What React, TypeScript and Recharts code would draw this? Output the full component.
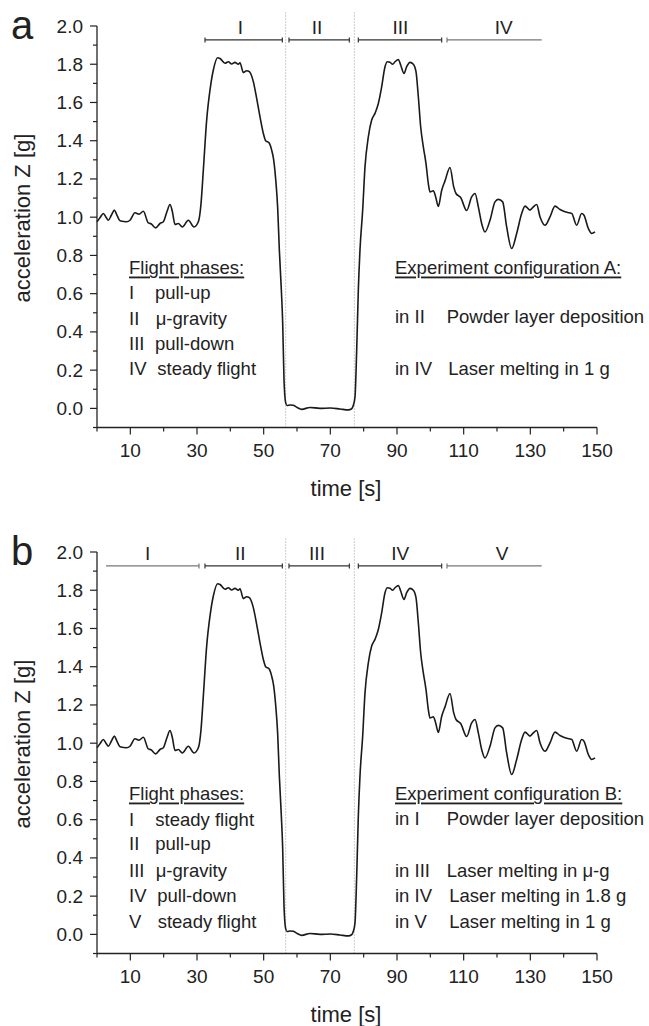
import React from "react";
import {
  LineChart,
  Line,
  XAxis,
  YAxis,
  ReferenceLine,
  ReferenceDot,
} from "recharts";

// acceleration trace (same trace in both panels)
const TIME = [
  0, 1.0, 1.9, 2.7, 3.4, 4.3, 5.2, 6.0, 6.9, 8.9, 9.9, 11.4, 12.6, 13.9, 15.4,
  16.2, 17.6, 18.9, 19.9, 21.0, 21.9, 22.6, 23.4, 24.4, 25.6, 27.4, 29.1, 30.4,
  31.2, 31.9, 32.9, 33.9, 34.9, 36.2, 36.9, 38.4, 39.4, 40.4, 41.4, 42.4, 42.9,
  43.9, 44.9, 45.7, 46.9, 47.9, 48.9, 49.9, 50.6, 51.6, 52.4, 53.0, 53.6, 54.2,
  54.7, 55.3, 55.7, 56.1, 56.6, 57.0, 58.0, 58.9, 60.2, 61.4, 63.9, 66.9, 70.0,
  72.9, 75.4, 76.4, 76.9, 77.4, 77.9, 78.4, 78.9, 79.7, 80.4, 81.4, 82.4, 83.4,
  84.4, 85.4, 86.4, 87.1, 87.9, 88.7, 89.4, 90.4, 91.1, 92.1, 92.9, 93.9, 94.9,
  95.7, 96.4, 97.1, 97.9, 98.7, 99.4, 99.9, 100.9, 101.6, 102.4, 103.4, 104.4,
  105.9, 107.0, 107.7, 109.1, 110.9, 112.4, 113.4, 114.4, 115.4, 116.4, 117.9,
  119.4, 120.4, 121.7, 122.9, 124.4, 125.9, 127.4, 128.4, 129.9, 130.9, 131.9,
  132.9, 134.4, 135.9, 137.4, 138.9, 140.4, 141.7, 142.4, 143.9, 145.4, 146.1,
  147.4, 148.4, 149.4,
];
const ACCEL = [
  0.976, 1.0, 1.019, 1.0, 0.984, 1.01, 1.037, 1.01, 0.981, 0.976, 0.984, 1.023,
  1.016, 1.031, 0.97, 0.966, 0.944, 0.967, 0.976, 1.03, 1.066, 1.03, 0.962,
  0.967, 0.949, 0.984, 0.949, 0.976, 1.07, 1.246, 1.508, 1.665, 1.77, 1.834,
  1.83, 1.805, 1.813, 1.801, 1.81, 1.8, 1.808, 1.756, 1.766, 1.761, 1.709,
  1.621, 1.525, 1.438, 1.4, 1.389, 1.351, 1.3, 1.2, 1.05, 0.83, 0.62, 0.45,
  0.15, 0.03, 0.015, 0.018, 0.016, 0.003, -0.005, 0.005, 0.0, 0.002, -0.003,
  -0.008, -0.002, 0.016, 0.06, 0.3, 0.62, 0.83, 1.037, 1.263, 1.42, 1.508,
  1.543, 1.595, 1.682, 1.787, 1.813, 1.81, 1.8, 1.813, 1.825, 1.796, 1.752,
  1.787, 1.81, 1.8, 1.761, 1.63, 1.473, 1.368, 1.28, 1.176, 1.132, 1.138,
  1.106, 1.056, 1.14, 1.19, 1.26, 1.16, 1.124, 1.103, 1.035, 1.106, 1.124,
  1.054, 0.967, 0.923, 0.984, 1.08, 1.093, 1.08, 0.949, 0.836, 0.915, 1.019,
  1.058, 1.037, 1.054, 1.066, 1.002, 0.958, 1.002, 1.058, 1.04, 1.028, 1.023,
  1.02, 0.958, 1.019, 1.01, 0.941, 0.915, 0.923,
];

const X_TICKS = [0, 10, 20, 30, 40, 50, 60, 70, 80, 90, 100, 110, 120, 130, 140, 150];
const X_LABELED = [10, 30, 50, 70, 90, 110, 130, 150];
const Y_TICKS = [-0.1, 0, 0.1, 0.2, 0.3, 0.4, 0.5, 0.6, 0.7, 0.8, 0.9, 1.0, 1.1, 1.2, 1.3, 1.4, 1.5, 1.6, 1.7, 1.8, 1.9, 2.0];
const Y_LABELED = [0, 0.2, 0.4, 0.6, 0.8, 1.0, 1.2, 1.4, 1.6, 1.8, 2.0];

// parabola boundaries (dotted lines)
const PHASE_SPLITS = [56.6, 77.2];

// phase bars along the top
const PHASES_A = ["I", "II", "III", "IV"];
const PHASE_A_START = [32.4, 57.6, 78.4, 105];
const PHASE_A_END = [55.6, 75.7, 103.4, 133.4];
const PHASE_A_LABEL_AT = [43, 66, 91, 122];
const PHASE_A_STEADY = [false, false, false, true];

const PHASES_B = ["I", "II", "III", "IV", "V"];
const PHASE_B_START = [2.7, 32.4, 57.6, 78.4, 105];
const PHASE_B_END = [30.6, 55.6, 75.7, 103.4, 133.4];
const PHASE_B_LABEL_AT = [15.2, 43, 66, 91, 121.5];
const PHASE_B_STEADY = [true, false, false, false, true];

const LEGEND_A = [
  ["I", "pull-up"],
  ["II", "μ-gravity"],
  ["III", "pull-down"],
  ["IV", "steady flight"],
];
const LEGEND_B = [
  ["I", "steady flight"],
  ["II", "pull-up"],
  ["III", "μ-gravity"],
  ["IV", "pull-down"],
  ["V", "steady flight"],
];
const CONFIG_A = [
  ["in II", "Powder layer deposition"],
  ["in IV", "Laser melting in 1 g"],
];
const CONFIG_B = [
  ["in I", "Powder layer deposition"],
  ["in III", "Laser melting in μ-g"],
  ["in IV", "Laser melting in 1.8 g"],
  ["in V", "Laser melting in 1 g"],
];

const FONT = '"Liberation Sans", Arial, Helvetica, sans-serif';
const INK = "#222";
const BAR_Y = 1.927;
const CAP = 0.013;

const data = TIME.map((t, i) => ({ t, a: ACCEL[i] }));

function XTick(props: any) {
  const { x, y, payload } = props;
  const major = X_LABELED.includes(payload.value);
  return (
    <g>
      <line x1={x} x2={x} y1={y} y2={y + (major ? 7 : 4)} stroke={INK} strokeWidth={1.2} />
      {major && (
        <text x={x} y={y + 23} textAnchor="middle" dominantBaseline="central" fontSize={19} fill={INK} fontFamily={FONT}>
          {payload.value}
        </text>
      )}
    </g>
  );
}

function YTick(props: any) {
  const { x, y, payload } = props;
  const major = Y_LABELED.some((v) => Math.abs(v - payload.value) < 1e-6);
  return (
    <g>
      <line x1={x - (major ? 7 : 4)} x2={x} y1={y} y2={y} stroke={INK} strokeWidth={1.2} />
      {major && (
        <text x={x - 14} y={y} textAnchor="end" dominantBaseline="central" fontSize={19} fill={INK} fontFamily={FONT}>
          {payload.value.toFixed(1)}
        </text>
      )}
    </g>
  );
}

interface PanelProps {
  top: number;
  letter: string;
  phases: string[];
  starts: number[];
  ends: number[];
  labelAt: number[];
  steady: boolean[];
  legend: string[][];
  legendY: number[];
  legendX: number[];
  configTitle: string;
  config: string[][];
  configY: number[];
  configX: number[];
}

function Panel(p: PanelProps) {
  const last = p.phases.length - 1;
  // steady-flight bars at the ends only get a cap on the inner side
  const capsFor = (i: number) => {
    if (p.steady[i] && i === last) return [p.starts[i]];
    if (p.steady[i] && i === 0) return [p.ends[i]];
    return [p.starts[i], p.ends[i]];
  };
  return (
    <div style={{ position: "absolute", left: 0, top: p.top, width: 649, height: 526 }}>
      <LineChart width={649} height={526} data={data} margin={{ top: 26, right: 52, left: 0, bottom: 0 }}>
        <XAxis
          dataKey="t"
          type="number"
          domain={[0, 150]}
          ticks={X_TICKS}
          interval={0}
          tickLine={false}
          tickSize={0}
          tickMargin={0}
          height={98.5}
          axisLine={{ stroke: INK, strokeWidth: 1.3 }}
          tick={<XTick />}
        />
        <YAxis
          type="number"
          domain={[-0.1, 2.0]}
          ticks={Y_TICKS}
          interval={0}
          tickLine={false}
          tickSize={0}
          tickMargin={0}
          width={97}
          axisLine={{ stroke: INK, strokeWidth: 1.3 }}
          tick={<YTick />}
        />
        {PHASE_SPLITS.map((s) => (
          <ReferenceLine
            key={"split" + s}
            segment={[{ x: s, y: -0.1 }, { x: s, y: 2.07 }]}
            stroke="#999"
            strokeWidth={1}
            strokeDasharray="1 2"
            ifOverflow="visible"
          />
        ))}
        {p.phases.map((name, i) => (
          <ReferenceLine
            key={"bar" + name}
            segment={[{ x: p.starts[i], y: BAR_Y }, { x: p.ends[i], y: BAR_Y }]}
            stroke={p.steady[i] ? "#777" : "#333"}
            strokeWidth={1.2}
            ifOverflow="visible"
          />
        ))}
        {p.phases.flatMap((name, i) =>
          capsFor(i).map((c) => (
            <ReferenceLine
              key={"cap" + name + c}
              segment={[{ x: c, y: BAR_Y - CAP }, { x: c, y: BAR_Y + CAP }]}
              stroke={p.steady[i] ? "#777" : "#333"}
              strokeWidth={1.2}
              ifOverflow="visible"
            />
          ))
        )}
        {p.phases.map((name, i) => (
          <ReferenceDot
            key={"lbl" + name}
            x={p.labelAt[i]}
            y={BAR_Y}
            r={0}
            fill="none"
            stroke="none"
            ifOverflow="visible"
            label={{ value: name, position: "top", offset: 6, fontSize: 19, fill: INK, fontFamily: FONT }}
          />
        ))}
        <Line
          type="monotone"
          dataKey="a"
          stroke="#1a1a1a"
          strokeWidth={1.6}
          dot={false}
          isAnimationActive={false}
        />
      </LineChart>
      <svg
        width={649}
        height={526}
        style={{ position: "absolute", left: 0, top: 0, pointerEvents: "none", overflow: "visible" }}
        fontFamily={FONT}
        fill={INK}
      >
        <text x={11} y={39} fontSize={40}>
          {p.letter}
        </text>
        <text
          x={22}
          y={218}
          fontSize={22}
          textAnchor="middle"
          dominantBaseline="central"
          transform="rotate(-90 22 218)"
        >
          acceleration Z [g]
        </text>
        <text x={346} y={488} fontSize={22} textAnchor="middle" dominantBaseline="central">
          time [s]
        </text>
        <text x={129} y={267} fontSize={18.5} dominantBaseline="central" style={{ textDecoration: "underline" }}>
          Flight phases:
        </text>
        {p.legend.map(([num, txt], i) => (
          <g key={"leg" + i}>
            <text x={129} y={p.legendY[i]} fontSize={18.5} dominantBaseline="central">
              {num}
            </text>
            <text x={p.legendX[i]} y={p.legendY[i]} fontSize={18.5} dominantBaseline="central">
              {txt}
            </text>
          </g>
        ))}
        <text x={395} y={267} fontSize={18.5} dominantBaseline="central" style={{ textDecoration: "underline" }}>
          {p.configTitle}
        </text>
        {p.config.map(([where, txt], i) => (
          <g key={"cfg" + i}>
            <text x={395} y={p.configY[i]} fontSize={18.5} dominantBaseline="central">
              {where}
            </text>
            <text x={p.configX[i]} y={p.configY[i]} fontSize={18.5} dominantBaseline="central">
              {txt}
            </text>
          </g>
        ))}
      </svg>
    </div>
  );
}

export default function App() {
  return (
    <div style={{ position: "absolute", left: 0, top: 0, width: 649, height: 1026, background: "#fff" }}>
      <Panel
        top={0}
        letter="a"
        phases={PHASES_A}
        starts={PHASE_A_START}
        ends={PHASE_A_END}
        labelAt={PHASE_A_LABEL_AT}
        steady={PHASE_A_STEADY}
        legend={LEGEND_A}
        legendY={[292.7, 318.3, 343.7, 368.7]}
        legendX={[155, 155.7, 155, 157.3]}
        configTitle="Experiment configuration A:"
        config={CONFIG_A}
        configY={[316.7, 368.3]}
        configX={[446.7, 448.3]}
      />
      <Panel
        top={526}
        letter="b"
        phases={PHASES_B}
        starts={PHASE_B_START}
        ends={PHASE_B_END}
        labelAt={PHASE_B_LABEL_AT}
        steady={PHASE_B_STEADY}
        legend={LEGEND_B}
        legendY={[293, 317.3, 344, 369, 395]}
        legendX={[155.3, 155.3, 155.7, 157.3, 157.7]}
        configTitle="Experiment configuration B:"
        config={CONFIG_B}
        configY={[292.3, 344, 369, 395]}
        configX={[446.7, 446.7, 449.3, 449.3]}
      />
    </div>
  );
}
